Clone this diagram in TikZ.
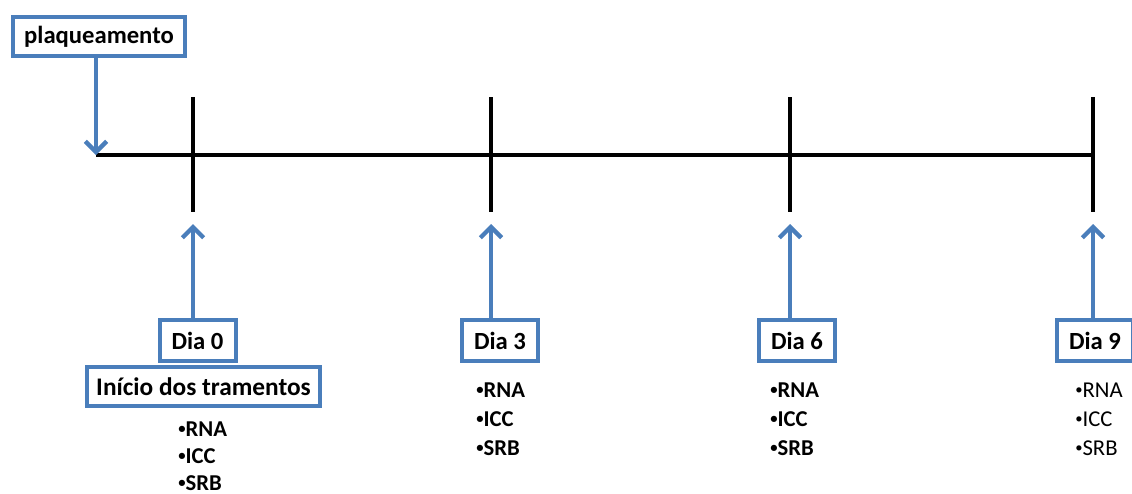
\documentclass[tikz,border=0pt]{standalone}
\usepackage{fontspec}
\setmainfont{Carlito}
\usetikzlibrary{arrows.meta}
\definecolor{obl}{RGB}{74,126,187}
\newcommand{\bul}{\raisebox{0.12em}{\fontsize{11}{11}\selectfont•}}
\begin{document}
\begin{tikzpicture}[x=0.75pt,y=-0.75pt,
  bluebox/.style={draw=obl,line width=3pt,fill=white,inner sep=0pt,font=\fontsize{18.5}{20}\selectfont\bfseries},
  daybox/.style={bluebox,minimum width=57pt,minimum height=31pt},
  tline/.style={line width=3pt,black},
  barrow/.style={draw=obl,line width=3.3pt,-{Straight Barb[length=8pt,width=16pt,line width=3.3pt]}},
  item/.style={anchor=base west,inner sep=0pt,text depth=0pt,font=\fontsize{17}{20}\selectfont\bfseries},
  itemr/.style={anchor=base west,inner sep=0pt,text depth=0pt,font=\fontsize{17}{20}\selectfont}]
\useasboundingbox (0,0) rectangle (1132,493);
\clip (0,0) rectangle (1132,493);
% timeline
\coordinate (start) at (96,155);
\coordinate (end) at (1093,155);
\draw[tline] (start) -- (end);
\foreach \n/\x in {0/193,3/491,6/790,9/1093}{
  \coordinate (top\n) at (\x,97);
  \coordinate (bot\n) at (\x,212);
  \coordinate (tip\n) at (\x,224);
  \draw[tline] (top\n) -- (bot\n);
}
% plaqueamento
\node[bluebox,minimum width=129pt,minimum height=29pt] (plaq) at (99,36.5) {plaqueamento};
\draw[barrow] (plaq.south -| start) -- (start);
% boxes
\node[daybox] (d0) at (197.5,340.5) {Dia 0};
\node[bluebox,minimum width=175pt,minimum height=29pt,font=\fontsize{19}{20}\selectfont\bfseries] (ini) at (203.5,386.5) {Início dos tramentos};
\node[daybox] (d3) at (500,340.5) {Dia 3};
\node[daybox] (d6) at (797,340.5) {Dia 6};
\node[daybox] (d9) at (1095,340.5) {Dia 9};
\draw[barrow] (d0.north -| tip0) -- (tip0);
\draw[barrow] (d3.north -| tip3) -- (tip3);
\draw[barrow] (d6.north -| tip6) -- (tip6);
\draw[barrow] (d9.north -| tip9) -- (tip9);
% items
\node[item] (i0a) at (178,436) {\bul RNA};
\node[item] (i0b) at (178,463) {\bul ICC};
\node[item] (i0c) at (178,490) {\bul SRB};
\node[item] (i3a) at (476,397) {\bul RNA};
\node[item] (i3b) at (476,426) {\bul ICC};
\node[item] (i3c) at (476,455) {\bul SRB};
\node[item] (i6a) at (770,397) {\bul RNA};
\node[item] (i6b) at (770,426) {\bul ICC};
\node[item] (i6c) at (770,455) {\bul SRB};
\node[itemr] (i9a) at (1075,397) {\bul RNA};
\node[itemr] (i9b) at (1075,426) {\bul ICC};
\node[itemr] (i9c) at (1075,455) {\bul SRB};
\end{tikzpicture}
\end{document}
